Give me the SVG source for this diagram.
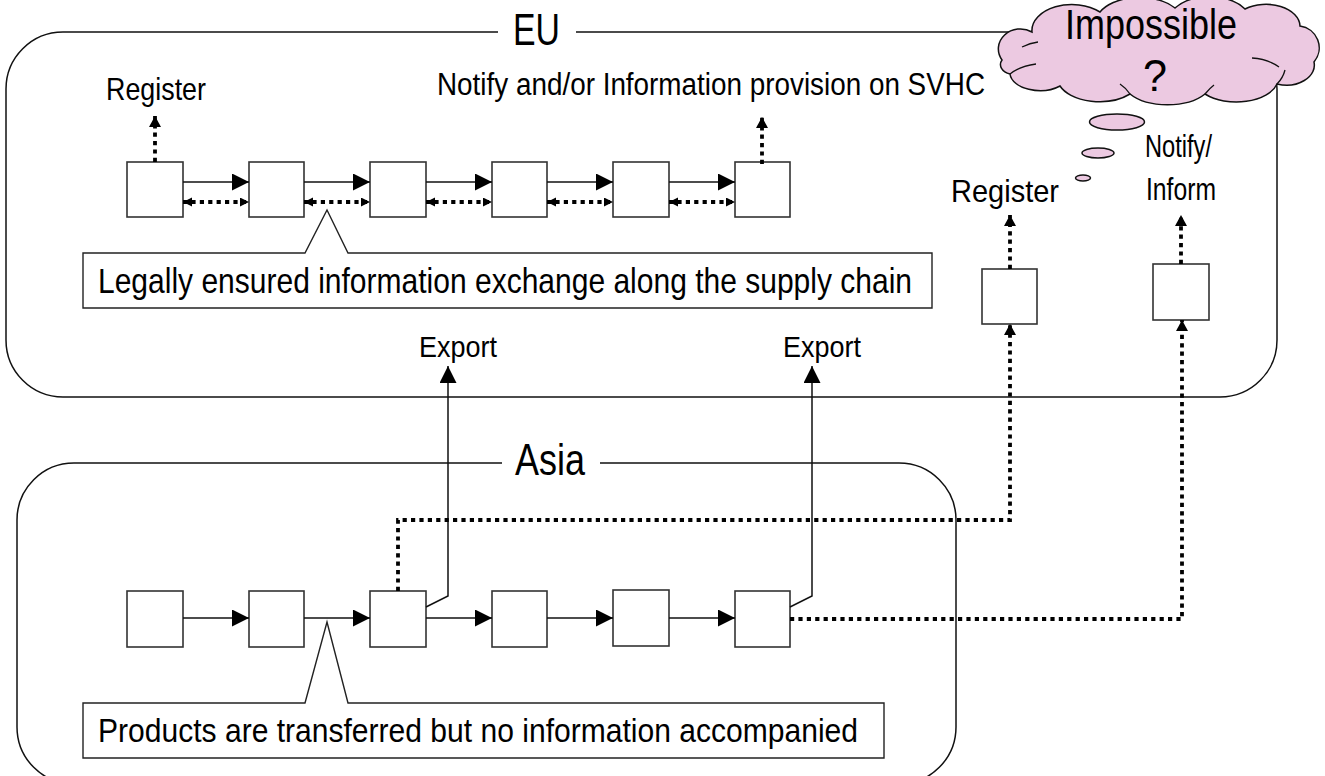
<svg xmlns="http://www.w3.org/2000/svg" width="1325" height="776" viewBox="0 0 1325 776">
<style>
.t{font-family:"Liberation Sans Narrow","Liberation Sans",Arial,sans-serif;fill:#000;}
.cont{fill:none;stroke:#111;stroke-width:1.5;}
.box{fill:#fff;stroke:#333;stroke-width:1.6;}
.call{fill:#fff;stroke:#222;stroke-width:1.4;}
.sol{fill:none;stroke:#111;stroke-width:1.5;}
.dot{fill:none;stroke:#000;stroke-width:3.8;stroke-dasharray:4.2 4.2;}
.pink{fill:#ECC9E1;stroke:#111;stroke-width:1.5;}
</style>
<defs>
<marker id="ah" markerUnits="userSpaceOnUse" markerWidth="18" markerHeight="18" refX="17" refY="8.5" orient="auto"><path d="M0,0 L17,8.5 L0,17 Z" fill="#000" stroke="none"/></marker>
<marker id="dh" markerUnits="userSpaceOnUse" markerWidth="12" markerHeight="13" refX="11" refY="6" orient="auto"><path d="M0,0 L11,6 L0,12 Z" fill="#000" stroke="none"/></marker>
<marker id="sh" markerUnits="userSpaceOnUse" markerWidth="10" markerHeight="10" refX="9" refY="4.5" orient="auto-start-reverse"><path d="M0,0 L9,4.5 L0,9 Z" fill="#000" stroke="none"/></marker>
</defs>

<g id="eu-region">
<path class="cont" d="M498,32 H63 A57,57 0 0 0 6,89 V340 A57,57 0 0 0 63,397 H1220 A57,57 0 0 0 1277,340 V89 A57,57 0 0 0 1220,32 H576"/>
<text class="t" x="513" y="45" font-size="44" textLength="47" lengthAdjust="spacingAndGlyphs">EU</text>
</g>

<g id="asia-region">
<path class="cont" d="M502,463 H74 A57,57 0 0 0 17,520 V727 A57,57 0 0 0 74,784 H899 A57,57 0 0 0 956,727 V520 A57,57 0 0 0 899,463 H600"/>
<text class="t" x="515" y="475" font-size="44" textLength="70" lengthAdjust="spacingAndGlyphs">Asia</text>
</g>

<g id="eu-callout">
<path class="call" d="M83,253 H305 L327,210 L348,253 H932 V308 H83 Z"/>
<text class="t" x="98" y="293" font-size="35" textLength="814" lengthAdjust="spacingAndGlyphs">Legally ensured information exchange along the supply chain</text>
</g>

<g id="asia-callout">
<path class="call" d="M83,703 H305 L327,622 L348,703 H884 V758 H83 Z"/>
<text class="t" x="98" y="742" font-size="34" textLength="760" lengthAdjust="spacingAndGlyphs">Products are transferred but no information accompanied</text>
</g>

<g id="eu-box1"><rect class="box" x="127" y="162" width="56" height="55"/></g>
<g id="eu-box2"><rect class="box" x="249" y="162" width="55" height="55"/></g>
<g id="eu-box3"><rect class="box" x="370" y="162" width="56" height="55"/></g>
<g id="eu-box4"><rect class="box" x="492" y="162" width="55" height="55"/></g>
<g id="eu-box5"><rect class="box" x="613" y="162" width="56" height="55"/></g>
<g id="eu-box6"><rect class="box" x="735" y="162" width="55" height="55"/></g>

<g id="asia-box1"><rect class="box" x="127" y="591" width="56" height="56"/></g>
<g id="asia-box2"><rect class="box" x="249" y="591" width="55" height="56"/></g>
<g id="asia-box3"><rect class="box" x="370" y="591" width="56" height="56"/></g>
<g id="asia-box4"><rect class="box" x="492" y="591" width="55" height="56"/></g>
<g id="asia-box5"><rect class="box" x="613" y="590" width="56" height="56"/></g>
<g id="asia-box6"><rect class="box" x="735" y="591" width="55" height="56"/></g>

<g id="register-box"><rect class="box" x="982" y="269" width="55" height="55"/></g>
<g id="notify-box"><rect class="box" x="1153" y="264" width="56" height="56"/></g>

<g id="labels">
<text class="t" x="106" y="100" font-size="32" textLength="100" lengthAdjust="spacingAndGlyphs">Register</text>
<text class="t" x="437" y="95" font-size="31" textLength="548" lengthAdjust="spacingAndGlyphs">Notify and/or Information provision on SVHC</text>
<text class="t" x="419" y="357" font-size="30" textLength="78" lengthAdjust="spacingAndGlyphs">Export</text>
<text class="t" x="783" y="357" font-size="30" textLength="78" lengthAdjust="spacingAndGlyphs">Export</text>
<text class="t" x="951" y="202" font-size="32" textLength="108" lengthAdjust="spacingAndGlyphs">Register</text>
<text class="t" x="1145" y="157" font-size="31" textLength="67" lengthAdjust="spacingAndGlyphs">Notify/</text>
<text class="t" x="1146" y="200" font-size="31" textLength="70" lengthAdjust="spacingAndGlyphs">Inform</text>
</g>

<g id="connectors">
<path class="sol" d="M183,182 H249" marker-end="url(#ah)"/>
<path class="sol" d="M304,182 H370" marker-end="url(#ah)"/>
<path class="sol" d="M426,182 H492" marker-end="url(#ah)"/>
<path class="sol" d="M547,182 H613" marker-end="url(#ah)"/>
<path class="sol" d="M669,182 H735" marker-end="url(#ah)"/>
<path class="dot" d="M183,202 H249" marker-start="url(#sh)" marker-end="url(#sh)"/>
<path class="dot" d="M304,202 H370" marker-start="url(#sh)" marker-end="url(#sh)"/>
<path class="dot" d="M426,202 H492" marker-start="url(#sh)" marker-end="url(#sh)"/>
<path class="dot" d="M547,202 H613" marker-start="url(#sh)" marker-end="url(#sh)"/>
<path class="dot" d="M669,202 H735" marker-start="url(#sh)" marker-end="url(#sh)"/>
<path class="dot" d="M155,162 V116" marker-end="url(#dh)"/>
<path class="dot" d="M762,164 V117" marker-end="url(#dh)"/>

<path class="sol" d="M183,618 H249" marker-end="url(#ah)"/>
<path class="sol" d="M304,618 H370" marker-end="url(#ah)"/>
<path class="sol" d="M426,618 H492" marker-end="url(#ah)"/>
<path class="sol" d="M547,618 H613" marker-end="url(#ah)"/>
<path class="sol" d="M669,618 H735" marker-end="url(#ah)"/>

<path class="sol" d="M426,607 L448,596 V366" marker-end="url(#ah)"/>
<path class="sol" d="M790,607 L812,596 V366" marker-end="url(#ah)"/>

<path class="dot" d="M398,591 V520 H1010 V324" marker-end="url(#dh)"/>
<path class="dot" d="M790,619 H1182 V320" marker-end="url(#dh)"/>
<path class="dot" d="M1010,269 V215" marker-end="url(#dh)"/>
<path class="dot" d="M1181,264 V215" marker-end="url(#dh)"/>
</g>

<g id="thought">
<path class="pink" d="M1002,60 A22,20 0 0 1 1032,32 A40,26 0 0 1 1100,12 A44,26 0 0 1 1175,8 A42,26 0 0 1 1245,9 A34,22 0 0 1 1300,26 A22,22 0 0 1 1314,62 A28,20 0 0 1 1277,84 A42,24 0 0 1 1205,94 A45,24 0 0 1 1130,94 A42,24 0 0 1 1060,86 A30,18 0 0 1 1010,74 A14,10 0 0 1 1002,60 Z"/>
<path fill="none" stroke="#111" stroke-width="1.3" d="M1022,47 Q1030,43 1038,42 M1010,74 Q1020,66 1036,64 M1252,58 Q1268,59 1279,67 M1277,84 Q1283,78 1285,70 M1130,94 Q1126,88 1120,84 M1205,94 Q1210,88 1214,85"/>
<ellipse class="pink" cx="1117" cy="122" rx="27.5" ry="8"/>
<ellipse class="pink" cx="1098" cy="153" rx="16" ry="5"/>
<ellipse class="pink" cx="1083" cy="178" rx="7.5" ry="3"/>
<text class="t" x="1065" y="39" font-size="42" textLength="172" lengthAdjust="spacingAndGlyphs">Impossible</text>
<text class="t" x="1143" y="91" font-size="44" textLength="24" lengthAdjust="spacingAndGlyphs">?</text>
</g>
</svg>
